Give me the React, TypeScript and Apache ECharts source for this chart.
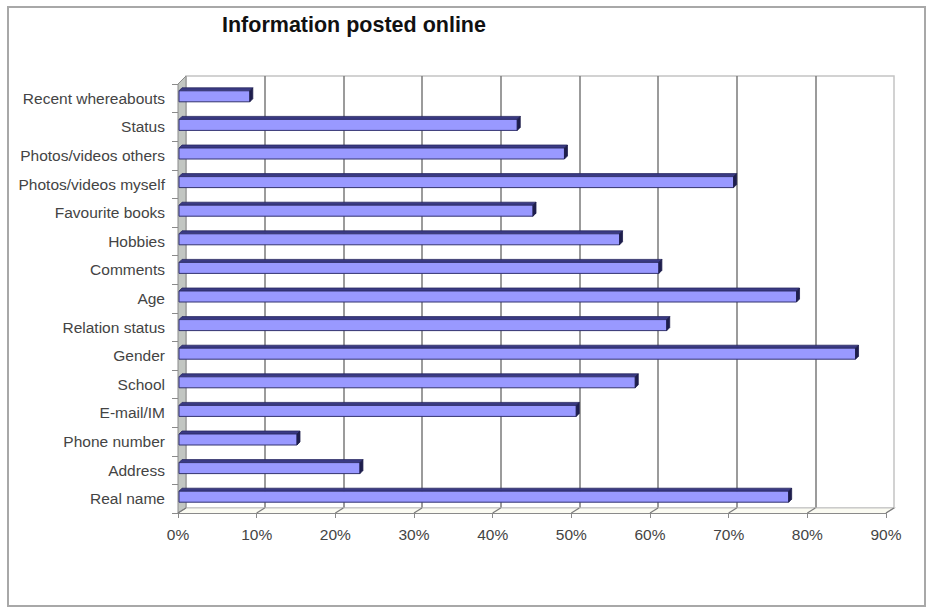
import React, { useEffect, useRef } from "react";
import * as echarts from "echarts";

const categories = [
  "Recent whereabouts",
  "Status",
  "Photos/videos others",
  "Photos/videos myself",
  "Favourite books",
  "Hobbies",
  "Comments",
  "Age",
  "Relation status",
  "Gender",
  "School",
  "E-mail/IM",
  "Phone number",
  "Address",
  "Real name",
];
const values = [9, 43, 49, 70.5, 45, 56, 61, 78.5, 62, 86, 58, 50.5, 15, 23, 77.5];
const tickValues = [0, 10, 20, 30, 40, 50, 60, 70, 80, 90];
const titleText = "Information posted online";

const FONT = "'Liberation Sans', Arial, sans-serif";

export default function App() {
  const ref = useRef<HTMLDivElement>(null);
  useEffect(() => {
    if (!ref.current) return;
    const chart = echarts.init(ref.current, null, { renderer: "svg" });
    const option: any = {
      animation: false,
      backgroundColor: "#ffffff",
      title: {
        text: titleText,
        left: 222,
        top: 14,
        padding: 0,
        textStyle: { fontSize: 21.5, fontWeight: "bold", fontFamily: FONT, color: "#111" },
      },
      graphic: [
        {
          type: "rect",
          shape: { x: 8, y: 7, width: 917, height: 599 },
          style: { fill: "none", stroke: "#a8a8a8", lineWidth: 2 },
          silent: true,
        },
      ],
      grid: [
        { left: 178, top: 84, width: 708, height: 429, show: false },
        {
          left: 186,
          top: 76,
          width: 708,
          height: 432,
          show: true,
          backgroundColor: "#ffffff",
          borderColor: "#c4c4c4",
          borderWidth: 1.5,
        },
      ],
      xAxis: [
        {
          type: "value",
          gridIndex: 0,
          min: 0,
          max: 90,
          interval: 10,
          axisLine: { show: true, lineStyle: { color: "#8a8a8a", width: 1 } },
          axisTick: { show: true, length: 5, lineStyle: { color: "#8a8a8a" } },
          splitLine: { show: false },
          axisLabel: {
            formatter: "{value}%",
            fontSize: 15.5,
            fontFamily: FONT,
            color: "#444",
            margin: 13,
          },
        },
        {
          type: "value",
          gridIndex: 1,
          min: 0,
          max: 90,
          interval: 10,
          axisLine: { show: false },
          axisTick: { show: false },
          axisLabel: { show: false },
          splitLine: {
            show: true,
            showMinLine: false,
            showMaxLine: false,
            lineStyle: { color: "#7a7a7a", width: 1.5 },
          },
        },
      ],
      yAxis: [
        {
          type: "category",
          gridIndex: 0,
          data: categories,
          inverse: true,
          axisLine: { show: true, lineStyle: { color: "#8a8a8a" } },
          axisTick: { show: true, length: 6, lineStyle: { color: "#8a8a8a" } },
          axisLabel: {
            fontSize: 15.5,
            fontFamily: FONT,
            color: "#444",
            margin: 13,
          },
          splitLine: { show: false },
        },
        {
          type: "value",
          gridIndex: 1,
          min: 0,
          max: 1,
          show: false,
        },
      ],
      series: [
        {
          type: "custom",
          name: "floor",
          xAxisIndex: 0,
          yAxisIndex: 0,
          z: 1,
          silent: true,
          data: tickValues.map((t) => [t, 0]),
          encode: { x: 0, y: 1 },
          renderItem: (params: any, api: any) => {
            const cs = params.coordSys;
            const t = api.value(0);
            const x = api.coord([t, 0])[0];
            const yb = cs.y + cs.height;
            const children: any[] = [];
            if (params.dataIndex === 0) {
              children.push({
                type: "polygon",
                shape: {
                  points: [
                    [cs.x, yb],
                    [cs.x + cs.width, yb],
                    [cs.x + cs.width + 8, yb - 5],
                    [cs.x + 8, yb - 5],
                  ],
                },
                style: { fill: "#fbfbf2", stroke: "none" },
              });
              children.push({
                type: "polyline",
                shape: {
                  points: [
                    [cs.x + 8, yb - 5],
                    [cs.x + cs.width + 8, yb - 5],
                    [cs.x + cs.width, yb],
                  ],
                },
                style: { fill: "none", stroke: "#c4c4c4", lineWidth: 1.2 },
              });
              children.push({
                type: "polygon",
                shape: {
                  points: [
                    [cs.x, cs.y],
                    [cs.x + 8, cs.y - 8],
                    [cs.x + 8, yb - 5],
                    [cs.x, yb],
                  ],
                },
                style: { fill: "#c2c6c2", stroke: "#8a8a8a", lineWidth: 1 },
              });
            }
            children.push({
              type: "line",
              shape: { x1: x, y1: yb, x2: x + 8, y2: yb - 5 },
              style: { stroke: "#7a7a7a", lineWidth: 1.2 },
            });
            return { type: "group", children };
          },
        },
        {
          type: "custom",
          name: "Information posted online",
          xAxisIndex: 0,
          yAxisIndex: 0,
          z: 3,
          data: values.map((v, i) => [v, i]),
          encode: { x: 0, y: 1 },
          renderItem: (params: any, api: any) => {
            const v = api.value(0);
            const i = api.value(1);
            const p0 = api.coord([0, i]);
            const p1 = api.coord([v, i]);
            const c = p0[1];
            const top = c - 7.5;
            const bot = c + 3.5;
            const xl = p0[0] + 1;
            const xr = p1[0] + 1;
            const d = 3;
            return {
              type: "group",
              children: [
                {
                  type: "polygon",
                  shape: {
                    points: [
                      [xl, top],
                      [xl + d, top - d],
                      [xr + d, top - d],
                      [xr, top],
                    ],
                  },
                  style: { fill: "#3a3a84", stroke: "#2a2a62", lineWidth: 0.8 },
                },
                {
                  type: "rect",
                  shape: { x: xl, y: top, width: xr - xl, height: bot - top },
                  style: { fill: "#9999ff", stroke: "#333370", lineWidth: 1 },
                },
                {
                  type: "polygon",
                  shape: {
                    points: [
                      [xr, top],
                      [xr + d, top - d],
                      [xr + d, bot - d],
                      [xr, bot],
                    ],
                  },
                  style: { fill: "#1e1e4c", stroke: "#1e1e4c", lineWidth: 0.8 },
                },
              ],
            };
          },
        },
      ],
    };
    chart.setOption(option);
    return () => chart.dispose();
  }, []);
  return (
    <div
      ref={ref}
      style={{ position: "fixed", left: 0, top: 0, width: 927, height: 609, background: "#fff" }}
    />
  );
}
